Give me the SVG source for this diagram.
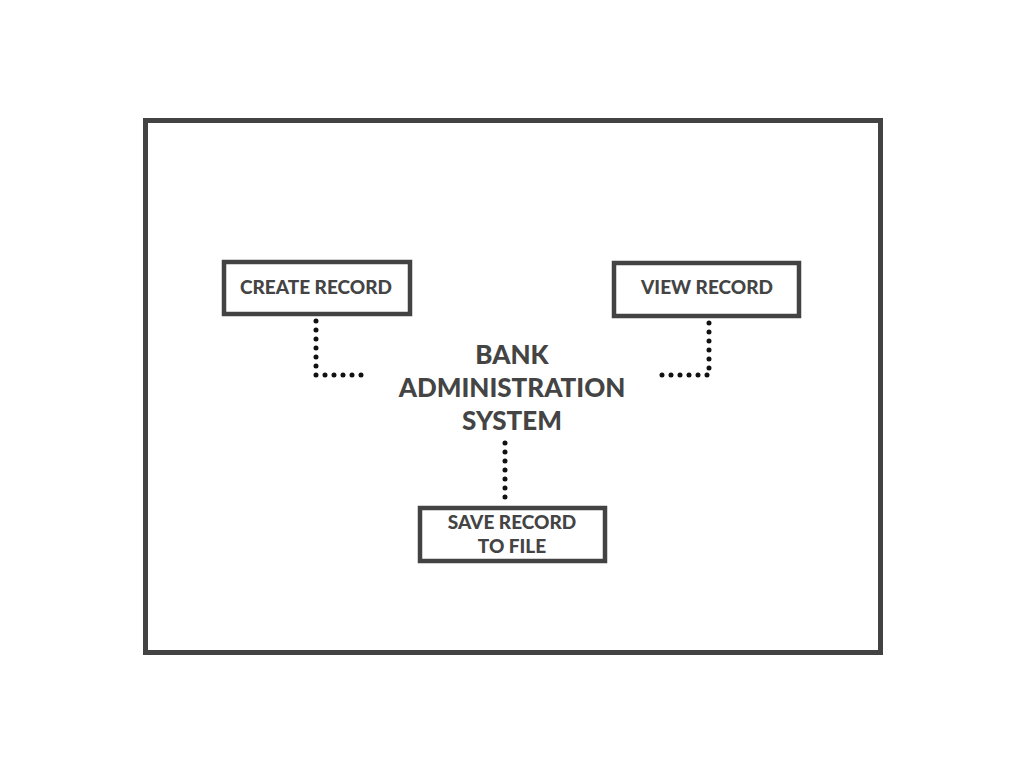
<svg xmlns="http://www.w3.org/2000/svg" width="1024" height="768" viewBox="0 0 1024 768">
<style>
.box{fill:#fff;stroke:#434343;stroke-width:4.5}
.lbl{font-family:Lato,"Open Sans",sans-serif;font-weight:900;fill:#444;font-size:19px;text-anchor:middle}
.title{font-family:Lato,"Open Sans",sans-serif;font-weight:900;fill:#444;font-size:26px;text-anchor:middle}
.dot{fill:none;stroke:#111;stroke-width:5;stroke-linecap:round;stroke-dasharray:0 9}
</style>
<rect width="1024" height="768" fill="#fff"/>
<rect x="145.5" y="120.5" width="735" height="532" fill="none" stroke="#434343" stroke-width="5"/>
<g id="connectors">
<path class="dot" d="M316 321 V375 H361.5"/>
<path class="dot" d="M709 323 V375 H655.5"/>
<path class="dot" d="M505 443 V506"/>
</g>
<g id="title">
<text class="title" x="512" y="364">BANK</text>
<text class="title" x="512" y="397">ADMINISTRATION</text>
<text class="title" x="512" y="430">SYSTEM</text>
</g>
<g id="create">
<rect class="box" x="224" y="262" width="186" height="52"/>
<text class="lbl" x="316" y="294">CREATE RECORD</text>
</g>
<g id="view">
<rect class="box" x="614" y="263" width="185" height="53"/>
<text class="lbl" x="707" y="294">VIEW RECORD</text>
</g>
<g id="save">
<rect class="box" x="420" y="508" width="185" height="53"/>
<text class="lbl" x="512" y="529">SAVE RECORD</text>
<text class="lbl" x="512" y="553">TO FILE</text>
</g>
</svg>
